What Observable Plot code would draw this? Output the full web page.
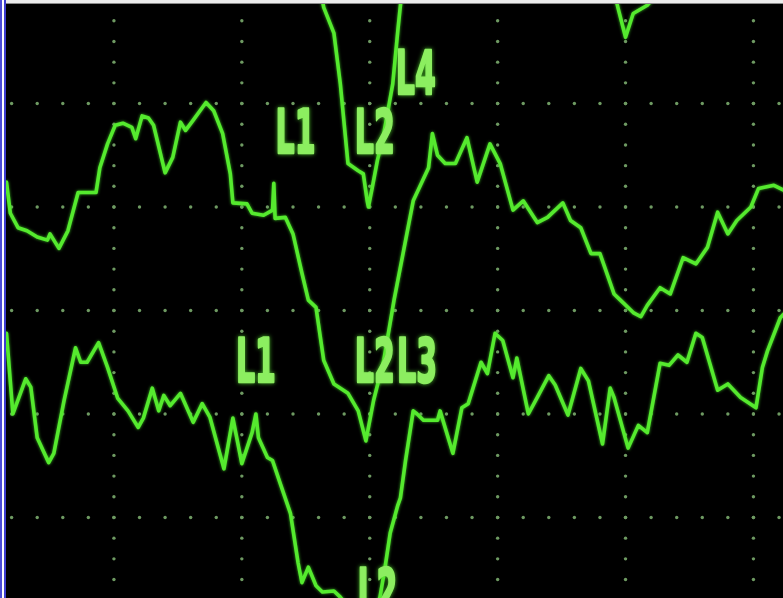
<!DOCTYPE html>
<html>
<head>
<meta charset="utf-8">
<script src="https://cdn.jsdelivr.net/npm/d3@7"></script>
<script src="https://cdn.jsdelivr.net/npm/@observablehq/plot@0.6"></script>
<style>
  html, body { margin: 0; padding: 0; background: #f2f2f2; }
  #frame { position: absolute; left: 0; top: 0; width: 783px; height: 598px; overflow: hidden;
           background: linear-gradient(to right, #4b4bd6 0 2px, #ffffff 2px 4px, #3d3dcf 4px 6px, #ececec 6px); }
  #rule { position: absolute; left: 6px; top: 3px; width: 777px; height: 1px; background: #8a8a8a; }
  #screen { position: absolute; left: 6px; top: 4px; width: 777px; height: 594px; overflow: hidden; background: #000; }
  #screen svg { display: block; }
</style>
</head>
<body>
<div id="frame"><div id="rule"></div><div id="screen"></div></div>
<script>
// Oscilloscope capture: time in horizontal divisions, amplitude in vertical divisions.

// Upper trace [time div, amplitude div]
const upperTrace = [
  [0.16,1.24],[0.19,0.94],[0.25,0.80],[0.32,0.77],[0.40,0.71],[0.48,0.68],[0.50,0.74],[0.57,0.60],
  [0.64,0.77],[0.72,1.14],[0.86,1.14],[0.89,1.38],[0.95,1.61],[1.01,1.79],[1.07,1.81],[1.14,1.77],
  [1.17,1.66],[1.22,1.88],[1.27,1.86],[1.31,1.79],[1.40,1.33],[1.46,1.48],[1.52,1.82],[1.56,1.74],
  [1.62,1.84],[1.72,2.01],[1.78,1.93],[1.85,1.71],[1.91,1.32],[1.93,1.04],[2.04,1.03],[2.08,0.94],
  [2.17,0.92],[2.24,0.97],[2.25,1.23],[2.26,0.89],[2.34,0.90],[2.40,0.74],[2.47,0.36],[2.52,0.10],
  [2.58,0.03],[2.64,-0.48],[2.72,-0.71],[2.83,-0.80],[2.91,-0.97],[2.97,-1.26],[3.03,-0.87],[3.11,-0.48],
  [3.19,0.10],[3.34,1.06],[3.46,1.38],[3.49,1.71],[3.53,1.50],[3.59,1.42],[3.67,1.42],[3.76,1.67],
  [3.84,1.24],[3.94,1.61],[4.02,1.42],[4.12,0.97],[4.20,1.06],[4.31,0.85],[4.39,0.90],[4.51,1.04],
  [4.57,0.87],[4.65,0.80],[4.73,0.55],[4.80,0.55],[4.91,0.16],[4.96,0.10],[5.06,-0.02],[5.12,-0.06],
  [5.17,0.05],[5.27,0.22],[5.35,0.16],[5.45,0.51],[5.55,0.45],[5.64,0.61],[5.72,0.95],[5.80,0.74],
  [5.87,0.87],[5.98,1.00],[6.04,1.18],[6.16,1.21],[6.24,1.16]
];

// Lower trace
const lowerTrace = [
  [0.16,-0.22],[0.21,-1.00],[0.31,-0.66],[0.35,-0.74],[0.40,-1.23],[0.49,-1.47],[0.53,-1.38],[0.61,-0.87],
  [0.70,-0.36],[0.74,-0.50],[0.79,-0.50],[0.88,-0.31],[0.95,-0.55],[1.03,-0.85],[1.11,-0.97],[1.19,-1.13],
  [1.23,-1.04],[1.30,-0.75],[1.35,-0.97],[1.39,-0.82],[1.44,-0.92],[1.52,-0.80],[1.62,-1.08],[1.69,-0.90],
  [1.75,-1.03],[1.86,-1.53],[1.93,-1.04],[2.00,-1.48],[2.08,-1.18],[2.11,-1.00],[2.13,-1.23],[2.20,-1.42],
  [2.24,-1.45],[2.30,-1.67],[2.38,-1.96],[2.44,-2.44],[2.47,-2.63],[2.52,-2.48],[2.58,-2.66],[2.63,-2.72],
  [2.72,-2.71],[2.77,-2.77],[2.89,-2.95],[3.01,-3.00],[3.08,-2.77],[3.12,-2.48],[3.16,-2.15],[3.22,-1.88],
  [3.24,-1.81],[3.28,-1.45],[3.34,-0.97],[3.37,-1.00],[3.42,-1.06],[3.53,-1.06],[3.55,-0.97],[3.65,-1.38],
  [3.72,-0.94],[3.77,-0.90],[3.87,-0.50],[3.92,-0.61],[3.98,-0.22],[4.04,-0.29],[4.12,-0.65],[4.15,-0.46],
  [4.24,-1.00],[4.31,-0.84],[4.40,-0.63],[4.45,-0.72],[4.55,-1.01],[4.65,-0.56],[4.71,-0.68],[4.82,-1.29],
  [4.88,-0.75],[4.91,-0.84],[5.02,-1.33],[5.10,-1.11],[5.17,-1.18],[5.27,-0.51],[5.34,-0.53],[5.41,-0.43],
  [5.48,-0.50],[5.55,-0.22],[5.60,-0.26],[5.72,-0.77],[5.80,-0.71],[5.90,-0.84],[6.02,-0.94],[6.07,-0.55],
  [6.11,-0.39],[6.21,-0.07],[6.24,-0.03]
];

// Fourth trace, mostly above the top of the screen
const l4Trace = [
  [2.60,3.19],[2.64,2.93],[2.72,2.68],[2.77,2.19],[2.83,1.42],[2.91,1.35],[2.95,1.32],[2.98,1.06],
  [2.99,1.00],[3.02,1.19],[3.06,1.45],[3.11,1.71],[3.18,2.19],[3.22,2.71],[3.26,3.19],[4.02,3.77],
  [4.80,3.38],[4.90,3.14],[4.94,2.93],[5.00,2.64],[5.06,2.87],[5.17,2.95],[5.31,3.14]
];

// Cursor labels
const labelText = ["L1", "L2", "L4", "L1", "L2", "L3", "L2"];
const labelTime = [2.42, 3.04, 3.36, 2.11, 3.04, 3.37, 3.06];
const labelAmp  = [1.71, 1.71, 2.28, -0.51, -0.51, -0.51, -2.73];

// Graticule
const majorTime = [1, 2, 3, 4, 5, 6];
const majorAmp = [-2, -1, 0, 1, 2, 3];
const minorStep = 0.2;

const gridDots = [];
for (const v of majorAmp) for (const t of d3.range(0.2, 6.3, minorStep)) gridDots.push({t, v});
for (const t of majorTime) for (const v of d3.range(-2.8, 3.05, minorStep)) gridDots.push({t, v});

const labels = labelText.map((text, i) => ({text, t: labelTime[i], v: labelAmp[i]}));

const traceColor = "#55ea2e";
const traceStyle = (data) => Plot.line(data, {
  x: d => d[0], y: d => d[1], stroke: traceColor, strokeWidth: 3.6, clip: true
});

const chart = Plot.plot({
  width: 777,
  height: 594,
  margin: 0,
  style: {background: "#000", display: "block"},
  x: {domain: [0.16, 6.235], axis: null},
  y: {domain: [-2.783, 2.957], axis: null},
  marks: [
    Plot.dot(gridDots, {x: "t", y: "v", r: 1.7, fill: "#6e9a62", clip: true}),
    traceStyle(upperTrace),
    traceStyle(lowerTrace),
    traceStyle(l4Trace),
    Plot.text(labels, {
      x: "t", y: "v", text: "text",
      fontSize: 60, fontWeight: "bold", fontFamily: "DejaVu Sans",
      fill: "#8cee60", stroke: "#8cee60", strokeWidth: 2.4, clip: true
    })
  ]
});

// Narrow the label glyphs and give traces and labels a phosphor glow
const svg = d3.select(chart);
svg.selectAll('g[aria-label="text"] text').each(function () {
  const el = this;
  const tr = el.getAttribute("transform");
  if (tr) {
    el.setAttribute("transform", tr + " scale(0.5,1)");
  } else {
    const x = el.getAttribute("x") || 0, y = el.getAttribute("y") || 0;
    el.removeAttribute("x"); el.removeAttribute("y");
    el.setAttribute("transform", `translate(${x},${y}) scale(0.5,1)`);
  }
});
svg.selectAll('g[aria-label="line"]').style("filter", "blur(0.5px) drop-shadow(0 0 1.5px rgba(70,220,40,0.8))");
svg.selectAll('g[aria-label="text"]').style("filter", "blur(0.4px) drop-shadow(0 0 2px rgba(90,230,50,0.8))");
svg.selectAll('g[aria-label="dot"]').style("filter", "blur(0.5px)");

document.getElementById("screen").appendChild(chart);
</script>
</body>
</html>
